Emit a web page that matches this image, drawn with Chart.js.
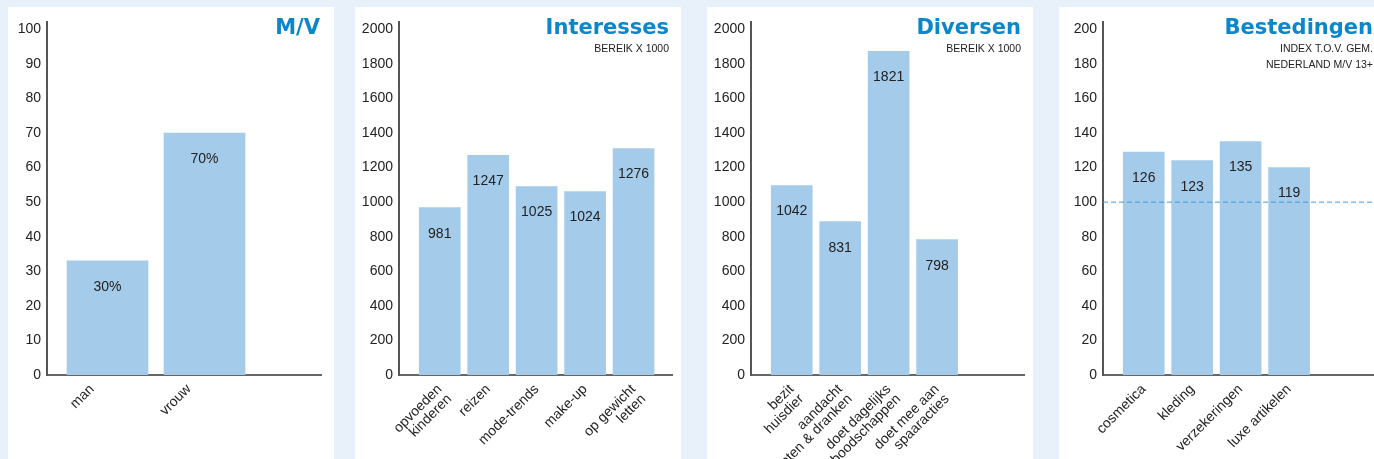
<!DOCTYPE html>
<html>
<head>
<meta charset="utf-8">
<script src="https://cdn.jsdelivr.net/npm/chart.js@4/dist/chart.umd.min.js"></script>
<style>
  html, body { margin: 0; padding: 0; }
  body { width: 1374px; height: 459px; background: #e8f1f9; overflow: hidden; position: relative; }
  .panel { position: absolute; top: 7px; width: 326px; height: 452px; background: #fff; }
  .panel canvas { display: block; }
</style>
</head>
<body>
<div class="panel" style="left:8px"><canvas id="mv" width="326" height="452"></canvas></div>
<div class="panel" style="left:355px"><canvas id="interesses" width="326" height="452"></canvas></div>
<div class="panel" style="left:707px"><canvas id="diversen" width="326" height="452"></canvas></div>
<div class="panel" style="left:1059px"><canvas id="bestedingen" width="326" height="452"></canvas></div>
<script>
// M/V
const mvCats = ['man', 'vrouw'];
const mvValues = [33, 70];
const mvTexts = ['30%', '70%'];
const mvTicks = [0, 10, 20, 30, 40, 50, 60, 70, 80, 90, 100];

// Interesses (bereik x 1000)
const intCats = [['opvoeden', 'kinderen'], 'reizen', 'mode-trends', 'make-up', ['op gewicht', 'letten']];
const intValues = [968, 1271, 1090, 1061, 1310];
const intTexts = ['981', '1247', '1025', '1024', '1276'];

// Diversen (bereik x 1000)
const divCats = [['bezit', 'huisdier'], ['aandacht', 'eten & dranken'], ['doet dagelijks', 'boodschappen'], ['doet mee aan', 'spaaracties']];
const divValues = [1096, 887, 1872, 783];
const divTexts = ['1042', '831', '1821', '798'];

const bereikTicks = [0, 200, 400, 600, 800, 1000, 1200, 1400, 1600, 1800, 2000];

// Bestedingen (index t.o.v. gem. Nederland M/V 13+)
const bestCats = ['cosmetica', 'kleding', 'verzekeringen', 'luxe artikelen'];
const bestValues = [129, 124, 135, 120];
const bestTexts = ['126', '123', '135', '119'];
const indexTicks = [0, 20, 40, 60, 80, 100, 120, 140, 160, 180, 200];
const indexBase = 100;

const FONT = '"Liberation Sans", Arial, sans-serif';
const BAR_COLOR = '#a5cbea';
const TITLE_BLUE = '#0a87cb';

// value labels inside the bars + optional dashed reference line
const barText = {
  id: 'barText',
  afterDatasetsDraw(chart, args, opts) {
    const ctx = chart.ctx;
    const meta = chart.getDatasetMeta(0);
    ctx.save();
    if (opts.refValue != null) {
      const y = chart.scales.y.getPixelForValue(opts.refValue);
      ctx.strokeStyle = '#3a9be0';
      ctx.lineWidth = 1;
      ctx.setLineDash([5, 3]);
      ctx.beginPath();
      ctx.moveTo(chart.chartArea.left, y);
      ctx.lineTo(chart.width, y);
      ctx.stroke();
    }
    ctx.font = '14px ' + FONT;
    ctx.fillStyle = '#222';
    ctx.textAlign = 'center';
    ctx.textBaseline = 'middle';
    meta.data.forEach((bar, i) => {
      ctx.fillText(opts.texts[i], bar.x, bar.y + 26);
    });
    ctx.restore();
  }
};

// title + subtitle in the top right corner of a panel
const panelTitle = {
  id: 'panelTitle',
  afterDraw(chart, args, opts) {
    const ctx = chart.ctx;
    ctx.save();
    ctx.textAlign = 'right';
    ctx.textBaseline = 'alphabetic';
    ctx.fillStyle = TITLE_BLUE;
    ctx.font = 'bold 21px "DejaVu Sans", sans-serif';
    ctx.fillText(opts.text, opts.right, 27);
    ctx.fillStyle = '#222';
    ctx.font = '10.5px ' + FONT;
    (opts.sub || []).forEach((line, k) => {
      ctx.fillText(line, opts.right, 45 + k * 16);
    });
    ctx.restore();
  }
};

function drawPanel(id, cats, values, texts, yTicks, cfg) {
  const yMax = yTicks[yTicks.length - 1];
  const shift = cfg.labelShift || 0;
  return new Chart(document.getElementById(id), {
    type: 'bar',
    data: {
      datasets: [{
        data: values.map((v, i) => ({ x: i, y: v })),
        backgroundColor: BAR_COLOR,
        barThickness: cfg.barWidth
      }]
    },
    options: {
      responsive: false,
      animation: false,
      layout: { padding: { top: 15, right: cfg.right, left: 0, bottom: 0 } },
      plugins: {
        legend: { display: false },
        tooltip: { enabled: false },
        barText: { texts: texts, refValue: cfg.refValue },
        panelTitle: { text: cfg.title, sub: cfg.sub, right: cfg.titleRight }
      },
      scales: {
        x: {
          type: 'linear',
          offset: false,
          min: cfg.xMin,
          max: cfg.xMax,
          grid: { display: false, drawTicks: false },
          border: { color: '#666', width: 2 },
          afterBuildTicks: s => { s.ticks = cats.map((c, i) => ({ value: i + shift })); },
          afterFit: s => { s.height = 84; },
          ticks: {
            autoSkip: false,
            minRotation: 45,
            maxRotation: 45,
            padding: 7,
            color: '#222',
            font: { family: FONT, size: 14, lineHeight: 1.0 },
            callback: (v, i) => cats[i]
          }
        },
        y: {
          min: 0,
          max: yMax * 1.021,
          grid: { display: false, drawTicks: false },
          border: { color: '#555', width: 2 },
          afterBuildTicks: s => { s.ticks = yTicks.map(v => ({ value: v })); },
          afterFit: s => { s.width = cfg.axisX; },
          ticks: {
            padding: 6,
            color: '#222',
            font: { family: FONT, size: 14 },
            callback: v => String(v)
          }
        }
      }
    },
    plugins: [barText, panelTitle]
  });
}

const narrowCfg = { barWidth: 41, axisX: 44, right: 9, xMin: -0.841, xMax: 4.794, titleRight: 314 };

drawPanel('mv', mvCats, mvValues, mvTexts, mvTicks,
  { barWidth: 81, axisX: 39, right: 13, xMin: -0.624, xMax: 2.201, titleRight: 312, title: 'M/V', labelShift: -0.16 });

drawPanel('interesses', intCats, intValues, intTexts, bereikTicks,
  Object.assign({}, narrowCfg, { title: 'Interesses', sub: ['BEREIK X 1000'] }));

drawPanel('diversen', divCats, divValues, divTexts, bereikTicks,
  Object.assign({}, narrowCfg, { title: 'Diversen', sub: ['BEREIK X 1000'] }));

drawPanel('bestedingen', bestCats, bestValues, bestTexts, indexTicks,
  Object.assign({}, narrowCfg, { title: 'Bestedingen', sub: ['INDEX T.O.V. GEM.', 'NEDERLAND M/V 13+'], refValue: indexBase }));
</script>
</body>
</html>
